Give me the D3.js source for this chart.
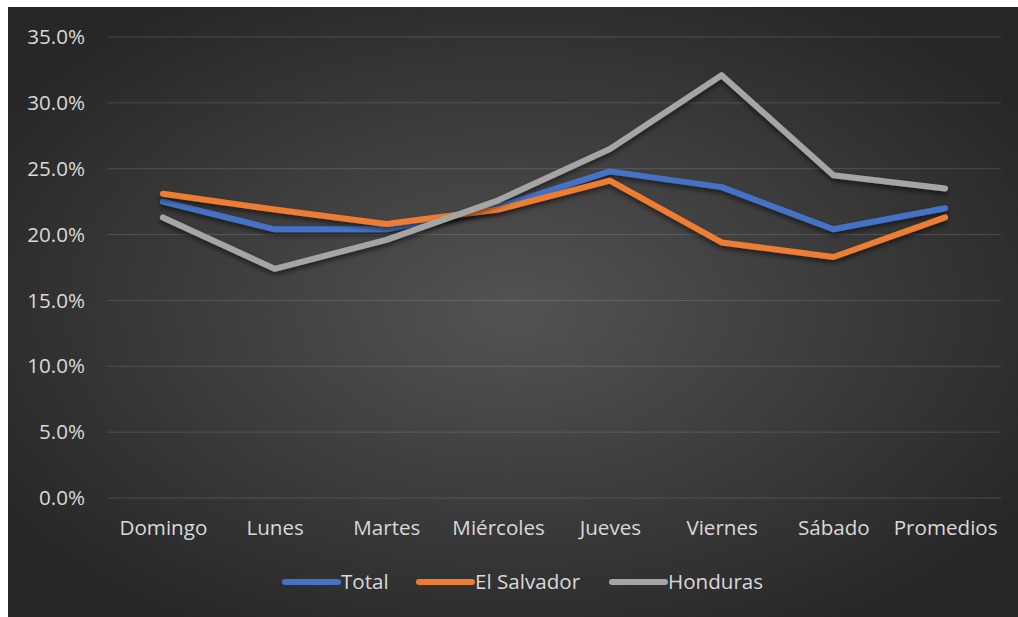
<!DOCTYPE html>
<html>
<head>
<meta charset="utf-8">
<script src="https://cdn.jsdelivr.net/npm/d3@7"></script>
<style>
  body { margin: 0; background: #fff; }
  svg { display: block; }
  text { font-family: "Open Sans", "Noto Sans", sans-serif; fill: #d9d9d9; }
</style>
</head>
<body>
<div id="chart"></div>
<script>
var days = ['Domingo', 'Lunes', 'Martes', 'Miércoles', 'Jueves', 'Viernes', 'Sábado', 'Promedios'];
var total = [22.5, 20.4, 20.4, 22.1, 24.8, 23.6, 20.4, 22.0];
var elSalvador = [23.1, 21.9, 20.8, 21.9, 24.1, 19.4, 18.3, 21.3];
var honduras = [21.3, 17.4, 19.6, 22.6, 26.5, 32.1, 24.5, 23.5];
var seriesNames = ['Total', 'El Salvador', 'Honduras'];
var seriesColors = ['#4472c4', '#ed7d31', '#a5a5a5'];
var yTicks = [0, 5, 10, 15, 20, 25, 30, 35];

var width = 1018, height = 617;
var fontSize = 20.6;
var svg = d3.select('#chart').append('svg')
  .attr('width', width)
  .attr('height', height);

var defs = svg.append('defs');
var grad = defs.append('radialGradient')
  .attr('id', 'bg')
  .attr('cx', '50%').attr('cy', '50%').attr('r', '60%');
grad.append('stop').attr('offset', '0%').attr('stop-color', '#535353');
grad.append('stop').attr('offset', '100%').attr('stop-color', '#272727');

var shadow = defs.append('filter').attr('id', 'shadow')
  .attr('x', '-5%').attr('y', '-10%').attr('width', '110%').attr('height', '130%');
shadow.append('feDropShadow')
  .attr('dx', 0).attr('dy', 3).attr('stdDeviation', 2.5)
  .attr('flood-color', '#000').attr('flood-opacity', 0.55);

svg.append('rect')
  .attr('x', 8).attr('y', 7)
  .attr('width', 1010).attr('height', 610)
  .attr('fill', 'url(#bg)');

var x = d3.scalePoint()
  .domain(days)
  .range([107, 1001])
  .padding(0.5);

var y = d3.scaleLinear()
  .domain([0, 35])
  .range([498, 37]);

// grid
svg.append('g')
  .selectAll('line')
  .data(yTicks)
  .enter()
  .append('line')
  .attr('x1', 107).attr('x2', 1001)
  .attr('y1', function (d) { return y(d); })
  .attr('y2', function (d) { return y(d); })
  .attr('stroke', '#ffffff')
  .attr('stroke-opacity', 0.14)
  .attr('stroke-width', 1);

// y axis labels
var yAxis = d3.axisLeft(y)
  .tickValues(yTicks)
  .tickSize(0)
  .tickPadding(0)
  .tickFormat(function (d) { return d.toFixed(1) + '%'; });

var yG = svg.append('g')
  .attr('transform', 'translate(85,0)')
  .call(yAxis);
yG.select('.domain').remove();
yG.selectAll('text')
  .attr('font-size', fontSize)
  .attr('fill', '#d9d9d9');

// x axis labels
var xAxis = d3.axisBottom(x).tickSize(0).tickPadding(0);
var xG = svg.append('g')
  .attr('transform', 'translate(0,520)')
  .call(xAxis);
xG.select('.domain').remove();
xG.selectAll('text')
  .attr('font-size', fontSize)
  .attr('fill', '#d9d9d9');

// lines
var line = d3.line()
  .x(function (d, i) { return x(days[i]); })
  .y(function (d) { return y(d); });

var allSeries = [total, elSalvador, honduras];

svg.append('g')
  .selectAll('path')
  .data(allSeries)
  .enter()
  .append('path')
  .attr('d', line)
  .attr('fill', 'none')
  .attr('stroke', function (d, i) { return seriesColors[i]; })
  .attr('stroke-width', 6)
  .attr('stroke-linecap', 'round')
  .attr('stroke-linejoin', 'round')
  .attr('filter', 'url(#shadow)');

// legend
var legendX = [282, 416, 609];
var legend = svg.append('g')
  .selectAll('g')
  .data(seriesNames)
  .enter()
  .append('g')
  .attr('transform', function (d, i) { return 'translate(' + legendX[i] + ',582)'; });

legend.append('line')
  .attr('x1', 3).attr('x2', 56)
  .attr('y1', 0).attr('y2', 0)
  .attr('stroke', function (d, i) { return seriesColors[i]; })
  .attr('stroke-width', 6)
  .attr('stroke-linecap', 'round');

legend.append('text')
  .attr('x', 59)
  .attr('y', 0)
  .attr('dy', '0.35em')
  .attr('font-size', fontSize)
  .text(function (d) { return d; });
</script>
</body>
</html>
